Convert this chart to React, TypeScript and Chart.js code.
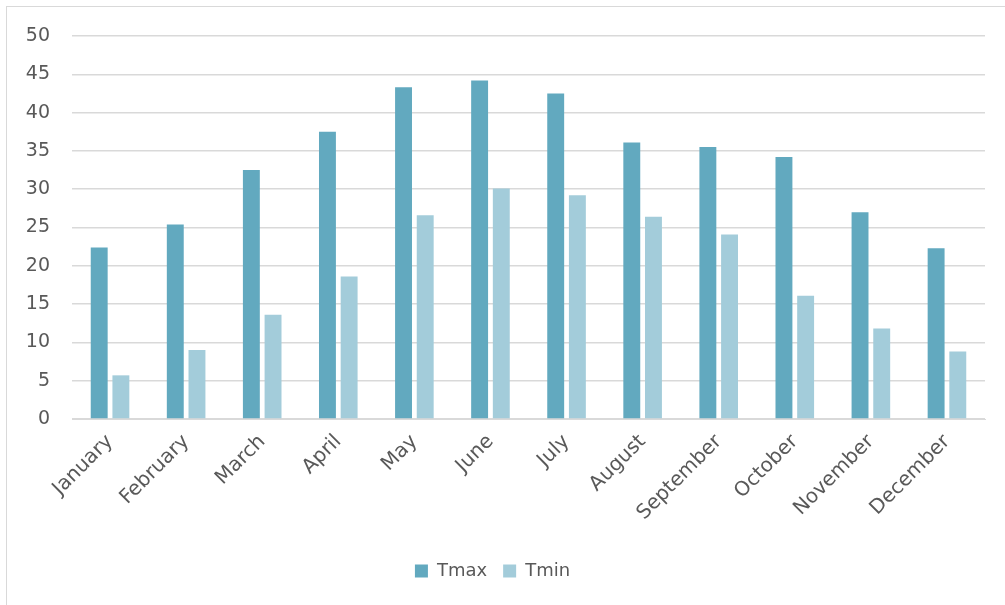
import React, { useEffect, useRef } from "react";
import { Chart, registerables } from "chart.js";

Chart.register(...registerables);

const months = ["January", "February", "March", "April", "May", "June", "July", "August", "September", "October", "November", "December"];
const tmax = [22.4, 25.4, 32.5, 37.5, 43.3, 44.2, 42.5, 36.1, 35.5, 34.2, 27.0, 22.3];
const tmin = [5.7, 9.0, 13.6, 18.6, 26.6, 30.1, 29.2, 26.4, 24.1, 16.1, 11.8, 8.8];
const yTicks = [0, 5, 10, 15, 20, 25, 30, 35, 40, 45, 50];

export default function App() {
  const ref = useRef<HTMLCanvasElement>(null);
  useEffect(() => {
    document.body.style.margin = "0";
    const ctx = ref.current!;
    const font = "'DejaVu Sans', 'Noto Sans', sans-serif";
    const chart = new Chart(ctx, {
      type: "bar",
      data: {
        labels: months,
        datasets: [
          { label: "Tmax", data: tmax, backgroundColor: "#62A9BF", borderWidth: 0, categoryPercentage: 0.57, barPercentage: 0.78 },
          { label: "Tmin", data: tmin, backgroundColor: "#A3CCDA", borderWidth: 0, categoryPercentage: 0.57, barPercentage: 0.78 },
        ],
      },
      options: {
        animation: false,
        responsive: false,
        layout: { padding: { top: 36, right: 20, left: 0, bottom: 15 } },
        plugins: {
          tooltip: { enabled: false },
          legend: {
            position: "bottom",
            labels: {
              boxWidth: 13,
              boxHeight: 13,
              color: "#595959",
              font: { family: font, size: 18 },
              padding: 16,
            },
          },
        },
        scales: {
          x: {
            grid: { display: false },
            border: { display: true, color: "#d9d9d9", width: 1 },
            ticks: {
              color: "#595959",
              font: { family: font, size: 20 },
              minRotation: 45,
              maxRotation: 45,
              padding: 3,
            },
            afterFit: (s: any) => { s.height = 127; },
          },
          y: {
            min: 0,
            max: 50,
            afterBuildTicks: (s: any) => { s.ticks = yTicks.map((v) => ({ value: v })); },
            grid: { color: "#d9d9d9", lineWidth: 1.5, drawTicks: false },
            border: { display: false },
            ticks: {
              color: "#595959",
              font: { family: font, size: 19 },
              padding: 22,
            },
            afterFit: (s: any) => { s.width = 72; },
          },
        },
      },
    });
    return () => chart.destroy();
  }, []);
  return (
    <div style={{ position: "relative", width: 1005, height: 605, overflow: "hidden", background: "#fff" }}>
      <canvas ref={ref} width={1005} height={605} style={{ display: "block" }} />
      <div style={{ position: "absolute", left: 6, top: 6, width: 1005, height: 605, border: "1px solid #d9d9d9", pointerEvents: "none" }} />
    </div>
  );
}
